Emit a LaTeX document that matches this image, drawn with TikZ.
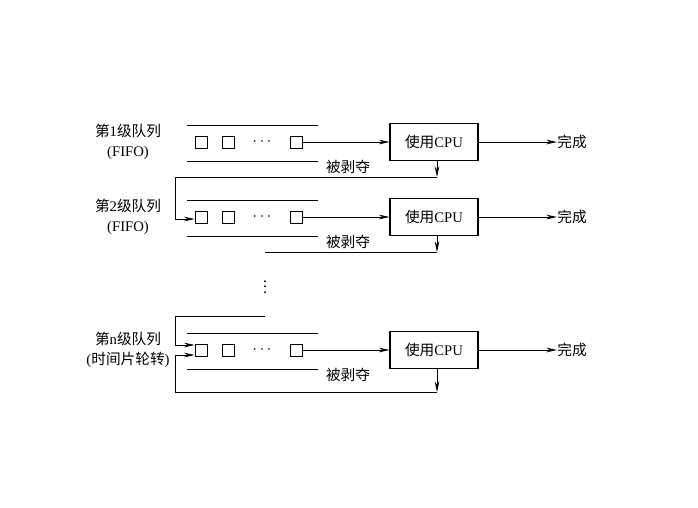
\documentclass[tikz,border=0pt]{standalone}
\usepackage{fontspec}
\setmainfont{Liberation Serif}
\newfontfamily\cjk{Noto Sans CJK SC}
\usetikzlibrary{positioning,arrows.meta}
\tikzset{
  job/.style={draw,minimum size=9pt,inner sep=0pt},
  cpubox/.style={draw,thick,minimum width=66pt,minimum height=28pt,inner sep=0pt,font=\fontsize{11}{13}\selectfont},
  lbl/.style={font=\fontsize{11}{13}\selectfont,align=center,inner sep=0pt},
  arr/.style={-{Stealth[length=8pt,width=3.5pt]}},
}
\begin{document}
\begin{tikzpicture}[x=0.75pt,y=-0.75pt,line width=0.6pt]
\useasboundingbox (0,0) rectangle (698,507);
% three queues
\foreach \r/\y/\lev/\kind in {a/142/1/(FIFO),b/217/2/(FIFO),c/350/n/({\cjk 时间片轮转})} {
  \draw (187,\y-17) -- (318,\y-17);
  \draw (187,\y+19) -- (318,\y+19);
  \node[job] (\r1) at (201,\y) {};
  \node[job] (\r2) at (228,\y) {};
  \node[font=\large] at (262,\y) {$\cdots$};
  \node[job] (\r3) at (296,\y) {};
  \node[cpubox] (cpu\r) at (434,\y) {{\cjk 使用}CPU};
  \node[lbl] (done\r) at (572,\y) {\cjk 完成};
  \node[lbl] (name\r) at (128,\y) {{\cjk 第}\lev{\cjk 级队列}\\[2pt]\kind};
  \draw[arr] (\r3) -- (cpu\r);
  \draw[arr] (cpu\r) -- (done\r.west);
  \node[lbl] (pre\r) at (348,\y+25) {\cjk 被剥夺};
}
\coordinate (xa) at (437,177);
\coordinate (xb) at (437,252);
\coordinate (xc) at (437,392);
% pre-emption paths
\draw[arr] (cpua.south -| xa) -- (xa);
\draw[arr] (xa) -- (175,177) -- (175,219) -- (b1.west |- 0,219);
\draw[arr] (cpub.south -| xb) -- (xb);
\draw (xb) -- (265,252);
\node[font=\large,inner sep=0pt] (vdots) at (265,283) {$\vdots$};
\draw[arr] (265,316) -- (175,316) -- (175,345) -- (c1.west |- 0,345);
\draw[arr] (cpuc.south -| xc) -- (xc);
\draw[arr] (xc) -- (175,392) -- (175,355) -- (c1.west |- 0,355);
\end{tikzpicture}
\end{document}
